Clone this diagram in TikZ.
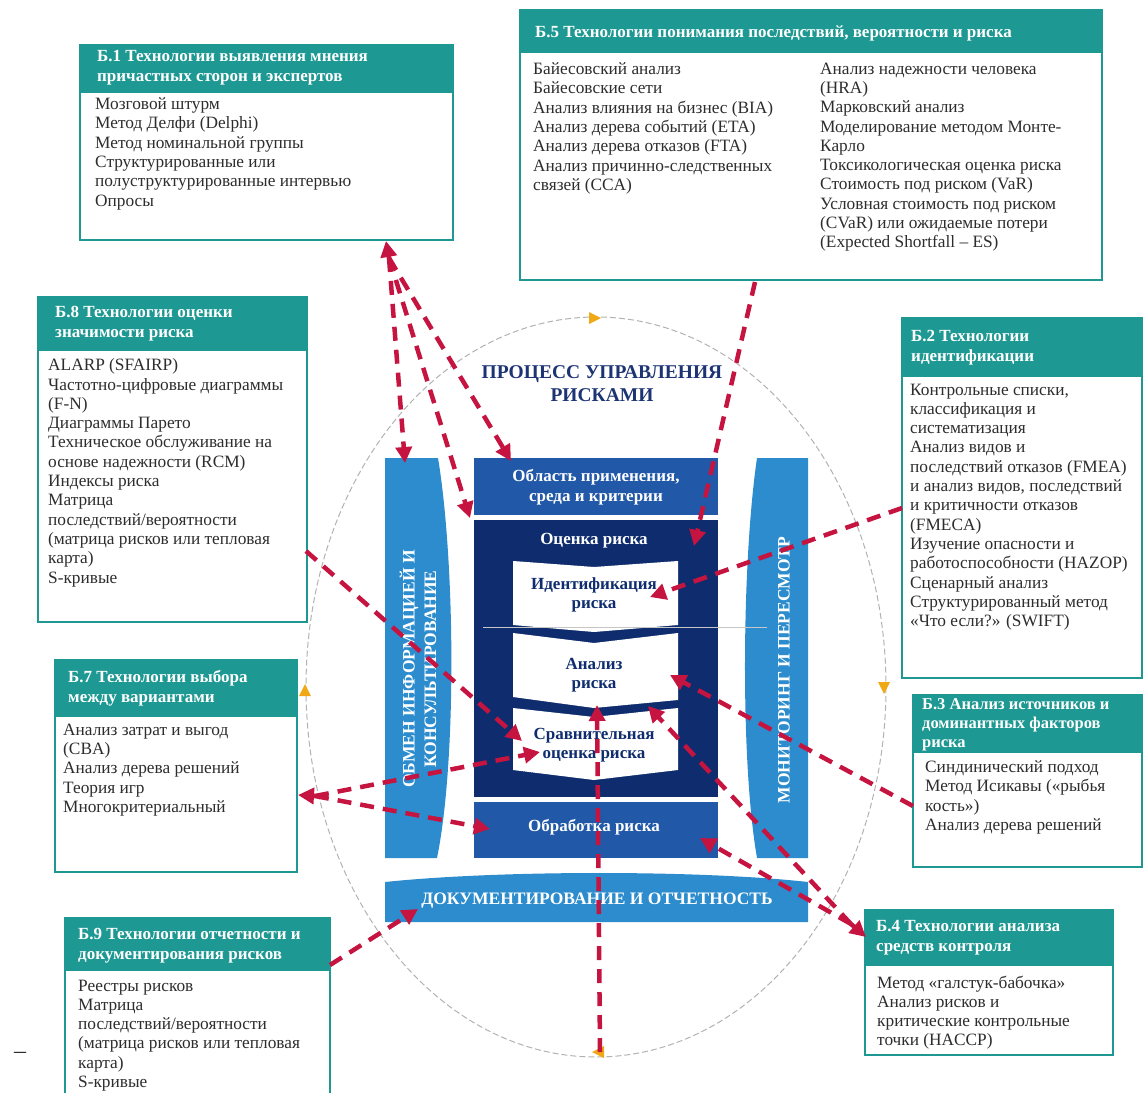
\documentclass[tikz,border=0pt]{standalone}
\usepackage{fontspec}
\setmainfont{Liberation Serif}
\usetikzlibrary{arrows.meta}
\definecolor{teal1}{RGB}{30,152,146}
\definecolor{lblue}{RGB}{44,140,205}
\definecolor{mblue}{RGB}{33,88,168}
\definecolor{navy}{RGB}{15,45,110}
\definecolor{titleblue}{RGB}{28,52,115}
\definecolor{rred}{RGB}{198,20,64}
\definecolor{yel}{RGB}{240,168,20}
\definecolor{txt}{RGB}{45,45,45}
\begin{document}
\begin{tikzpicture}[x=1pt,y=-1pt,
  frame/.style={draw=teal1, line width=2.5pt, fill=white, anchor=north west, inner sep=0pt, outer sep=0pt},
  hdr/.style={draw=teal1, fill=teal1, line width=2.5pt, anchor=north west, inner sep=0pt, outer sep=0pt},
  hdrtext/.style={anchor=north west, inner sep=0pt, text=white, align=left, font=\bfseries\fontsize{17}{19.8}\selectfont},
  bodytext/.style={anchor=north west, inner sep=0pt, text=txt, align=left, font=\fontsize{17.3}{19.3}\selectfont},
  ctext/.style={inner sep=0pt, align=center, font=\bfseries\fontsize{17}{19.5}\selectfont},
  bartext/.style={inner sep=0pt, align=center, text=white, font=\bfseries\fontsize{17.5}{21.5}\selectfont},
  rl/.style={draw=rred, line width=4.5pt, dash pattern=on 14pt off 9pt},
  ra/.style={rl, -{Triangle[length=16pt,width=16pt]}},
  yeltri/.style={fill=yel, draw=none},
]
\useasboundingbox (0,0) rectangle (1144,1093);

% ---------- process ellipse ----------
\draw[gray!60, line width=1pt, dash pattern=on 6pt off 3pt] (596,687) ellipse [x radius=290, y radius=370];
\fill[yeltri] (589,312) -- (601,318) -- (589,324) -- cycle;
\fill[yeltri] (878,682) -- (890,682) -- (884,694) -- cycle;
\fill[yeltri] (604,1046) -- (592,1052) -- (604,1058) -- cycle;
\fill[yeltri] (299,696) -- (311,696) -- (305,684) -- cycle;

\node[font=\bfseries\fontsize{19.5}{23}\selectfont, text=titleblue, align=center, inner sep=0pt] (title) at (602,384) {ПРОЦЕСС УПРАВЛЕНИЯ\\РИСКАМИ};

% ---------- central process ----------
\fill[lblue] (385,458) -- (438,458) .. controls (455,560) and (457,760) .. (437,858) -- (385,858) -- cycle;
\fill[lblue] (757,458) -- (808,458) -- (808,858) -- (757,858) .. controls (740,760) and (742,560) .. (757,458) -- cycle;
\fill[lblue] (385,882) .. controls (500,870) and (700,870) .. (808,882) -- (808,922) -- (385,922) -- cycle;
\node[bartext, rotate=90] (comm) at (418,669) {ОБМЕН ИНФОРМАЦИЕЙ И\\КОНСУЛЬТИРОВАНИЕ};
\node[bartext, rotate=90] (monit) at (784,670) {МОНИТОРИНГ И ПЕРЕСМОТР};
\node[bartext] (doc) at (597,901) {ДОКУМЕНТИРОВАНИЕ И ОТЧЕТНОСТЬ};

\node[fill=mblue, minimum width=244pt, minimum height=57pt, anchor=north west, inner sep=0pt] (scope) at (474,458) {};
\node[ctext, text=white] (scopet) at (596,487) {Область применения,\\среда и критерии};
\node[fill=navy, minimum width=244pt, minimum height=277pt, anchor=north west, inner sep=0pt] (assess) at (474,520) {};
\node[ctext, text=white] (assesst) at (594,541) {Оценка риска};
\node[fill=mblue, minimum width=244pt, minimum height=56pt, anchor=north west, inner sep=0pt] (treat) at (474,802) {};
\node[ctext, text=white] (treatt) at (594,827) {Обработка риска};

\fill[white] (513,561) -- (594,567) -- (678,561) -- (678,625) -- (594,632) -- (513,625) -- cycle;
\fill[white] (513,633) -- (594,643) -- (678,633) -- (678,700) -- (594,708) -- (513,697) -- cycle;
\fill[white] (513,708) -- (594,717) -- (678,708) -- (678,770) -- (594,780) -- (513,770) -- cycle;
\draw[gray!45, line width=0.6pt] (483,627) -- (767,627);
\node[ctext, text=navy] (ident) at (594,595) {Идентификация\\риска};
\node[ctext, text=navy] (anal) at (594,675) {Анализ\\риска};
\node[ctext, text=navy] (comp) at (594,745) {Сравнительная\\оценка риска};

% ---------- technique boxes ----------
% B.1
\node[frame, minimum width=373pt, minimum height=195pt] (B1) at (80,45) {};
\node[hdr, minimum width=373pt, minimum height=47pt] (B1h) at (80,45) {};
\node[hdrtext] (B1ht) at (97,50) {Б.1 Технологии выявления мнения\\причастных сторон и экспертов};
\node[bodytext] (B1t) at (95,97.5) {Мозговой штурм\\Метод Делфи (Delphi)\\Метод номинальной группы\\Структурированные или\\полуструктурированные интервью\\Опросы};

% B.5
\node[frame, minimum width=582pt, minimum height=270pt] (B5) at (520,10) {};
\node[hdr, minimum width=582pt, minimum height=42pt] (B5h) at (520,10) {};
\node[hdrtext] (B5ht) at (535,26) {Б.5 Технологии понимания последствий, вероятности и риска};
\node[bodytext] (B5l) at (533,62.5) {Байесовский анализ\\Байесовские сети\\Анализ влияния на бизнес (BIA)\\Анализ дерева событий (ETA)\\Анализ дерева отказов (FTA)\\Анализ причинно-следственных\\связей (CCA)};
\node[bodytext] (B5r) at (820,62.5) {Анализ надежности человека\\(HRA)\\Марковский анализ\\Моделирование методом Монте-\\Карло\\Токсикологическая оценка риска\\Стоимость под риском (VaR)\\Условная стоимость под риском\\(CVaR) или ожидаемые потери\\(Expected Shortfall – ES)};

% B.8
\node[frame, minimum width=269pt, minimum height=325pt] (B8) at (38,297) {};
\node[hdr, minimum width=269pt, minimum height=53pt] (B8h) at (38,297) {};
\node[hdrtext] (B8ht) at (55,306) {Б.8 Технологии оценки\\значимости риска};
\node[bodytext] (B8t) at (48,358.5) {ALARP (SFAIRP)\\Частотно-цифровые диаграммы\\(F-N)\\Диаграммы Парето\\Техническое обслуживание на\\основе надежности (RCM)\\Индексы риска\\Матрица\\последствий/вероятности\\(матрица рисков или тепловая\\карта)\\S-кривые};

% B.2
\node[frame, minimum width=240pt, minimum height=360pt] (B2) at (902,318) {};
\node[hdr, minimum width=240pt, minimum height=58pt] (B2h) at (902,318) {};
\node[hdrtext] (B2ht) at (911,330) {Б.2 Технологии\\идентификации};
\node[bodytext] (B2t) at (910,383.5) {Контрольные списки,\\классификация и\\систематизация\\Анализ видов и\\последствий отказов (FMEA)\\и анализ видов, последствий\\и критичности отказов\\(FMECA)\\Изучение опасности и\\работоспособности (HAZOP)\\Сценарный анализ\\Структурированный метод\\«Что если?» (SWIFT)};

% B.7
\node[frame, minimum width=242pt, minimum height=212pt] (B7) at (55,660) {};
\node[hdr, minimum width=242pt, minimum height=56pt] (B7h) at (55,660) {};
\node[hdrtext] (B7ht) at (68,670) {Б.7 Технологии выбора\\между вариантами};
\node[bodytext] (B7t) at (63,723.5) {Анализ затрат и выгод\\(CBA)\\Анализ дерева решений\\Теория игр\\Многокритериальный};

% B.3
\node[frame, minimum width=229pt, minimum height=172pt] (B3) at (913,695) {};
\node[hdr, minimum width=229pt, minimum height=57pt] (B3h) at (913,695) {};
\node[hdrtext, font=\bfseries\fontsize{16.5}{19}\selectfont] (B3ht) at (922,698) {Б.3 Анализ источников и\\доминантных факторов\\риска};
\node[bodytext] (B3t) at (925,760.5) {Синдинический подход\\Метод Исикавы («рыбья\\кость»)\\Анализ дерева решений};

% B.9
\node[frame, minimum width=265pt, minimum height=190pt] (B9) at (65,918) {};
\node[hdr, minimum width=265pt, minimum height=52pt] (B9h) at (65,918) {};
\node[hdrtext] (B9ht) at (78,928) {Б.9 Технологии отчетности и\\документирования рисков};
\node[bodytext] (B9t) at (78,979.5) {Реестры рисков\\Матрица\\последствий/вероятности\\(матрица рисков или тепловая\\карта)\\S-кривые};

% B.4
\node[frame, minimum width=248pt, minimum height=145pt] (B4) at (865,910) {};
\node[hdr, minimum width=248pt, minimum height=55pt] (B4h) at (865,910) {};
\node[hdrtext] (B4ht) at (876,920) {Б.4 Технологии анализа\\средств контроля};
\node[bodytext] (B4t) at (877,975.5) {Метод «галстук-бабочка»\\Анализ рисков и\\критические контрольные\\точки (HACCP)};

\node[font=\fontsize{24}{26}\selectfont, inner sep=0pt, text=txt] (dash) at (20,1055) {–};

% ---------- connectors ----------
\coordinate (b1tip) at (386,241);
\coordinate (b1fork) at (389,258);
\coordinate (tcomm) at (405,463);
\coordinate (tassess) at (470,518);
\coordinate (tscope) at (511,461);
\coordinate (b5s) at (755,282);
\coordinate (tassess2) at (694,546);
\coordinate (b2s) at (902,508);
\coordinate (tident) at (650,597);
\coordinate (b8s) at (306,551);
\coordinate (tcomp1) at (522,741);
\coordinate (b7tip) at (298,795);
\coordinate (b7fork) at (315,796);
\coordinate (tcomp2) at (540,752);
\coordinate (ttreat1) at (490,829);
\coordinate (b3s) at (913,806);
\coordinate (tanal1) at (670,675);
\coordinate (b4tip) at (866,937);
\coordinate (b4fork) at (851,924);
\coordinate (tcomp3) at (648,706);
\coordinate (ttreat2) at (700,838);
\coordinate (b9s) at (330,965);
\coordinate (tdoc) at (418,909);
\coordinate (vbot) at (600,1052);
\coordinate (tanal2) at (597,705);

\draw[ra] (b1fork) -- (b1tip);
\draw[ra] (b1fork) -- (tcomm);
\draw[ra] (b1fork) -- (tassess);
\draw[ra] (b1fork) -- (tscope);
\draw[ra] (b5s) -- (tassess2);
\draw[ra] (b2s) -- (tident);
\draw[ra] (b8s) -- (tcomp1);
\draw[ra] (b7fork) -- (b7tip);
\draw[ra] (b7fork) -- (tcomp2);
\draw[ra] (b7fork) -- (ttreat1);
\draw[ra] (b3s) -- (tanal1);
\draw[ra] (b4fork) -- (b4tip);
\draw[ra] (b4fork) -- (tcomp3);
\draw[ra] (b4fork) -- (ttreat2);
\draw[ra] (b9s) -- (tdoc);
\draw[ra] (vbot) -- (tanal2);
\end{tikzpicture}
\end{document}
